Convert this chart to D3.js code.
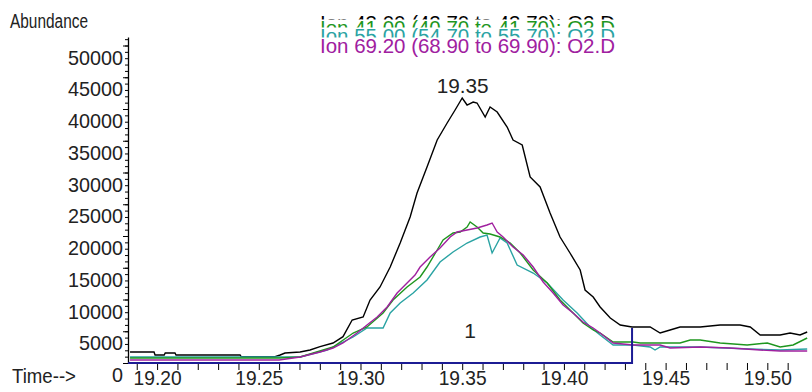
<!DOCTYPE html>
<html>
<head>
<meta charset="utf-8">
<script src="https://cdn.jsdelivr.net/npm/d3@7"></script>
<style>
body { margin: 0; background: #fff; }
text { font-family: "Liberation Sans Narrow", "Liberation Sans", "DejaVu Sans Condensed", sans-serif; }
</style>
</head>
<body>
<svg id="chart" width="812" height="392"></svg>
<script>
//retention time (min) and abundance for each ion trace
var blackTime = [19.1867, 19.1985, 19.1990, 19.2035, 19.2040, 19.2088, 19.2093, 19.2408, 19.2413, 19.2580, 19.2605, 19.2629, 19.2703, 19.2752, 19.2801, 19.2865, 19.2914, 19.2959, 19.3013, 19.3047, 19.3096, 19.3146, 19.3195, 19.3244, 19.3278, 19.3327, 19.3377, 19.3426, 19.3465, 19.3500, 19.3524, 19.3554, 19.3573, 19.3613, 19.3637, 19.3672, 19.3721, 19.3750, 19.3795, 19.3834, 19.3883, 19.3932, 19.3981, 19.4030, 19.4080, 19.4104, 19.4144, 19.4178, 19.4228, 19.4277, 19.4335, 19.4424, 19.4473, 19.4522, 19.4571, 19.4670, 19.4768, 19.4866, 19.4916, 19.4965, 19.5063, 19.5112, 19.5161, 19.5196];
var blackAbund = [1732, 1732, 1260, 1260, 1575, 1575, 1260, 1260, 1000, 1000, 1260, 1575, 1732, 2047, 2567, 3150, 4142, 6772, 7244, 9921, 11969, 15118, 18898, 22992, 26772, 30866, 35118, 37795, 39843, 41732, 40630, 41102, 40945, 38740, 40315, 39528, 37165, 35118, 34331, 29291, 27717, 23622, 19843, 17323, 14646, 11496, 10394, 8819, 7087, 5984, 5669, 5669, 4724, 5197, 5669, 5669, 5984, 5984, 5669, 4409, 4409, 4724, 4409, 4882];

var greenTime = [19.1867, 19.2600, 19.2703, 19.2865, 19.2964, 19.3032, 19.3111, 19.3160, 19.3229, 19.3293, 19.3327, 19.3377, 19.3406, 19.3455, 19.3490, 19.3524, 19.3539, 19.3573, 19.3603, 19.3637, 19.3686, 19.3736, 19.3785, 19.3849, 19.3918, 19.3981, 19.4045, 19.4094, 19.4144, 19.4178, 19.4242, 19.4340, 19.4375, 19.4571, 19.4621, 19.4670, 19.4768, 19.4901, 19.5000, 19.5063, 19.5127, 19.5196];
var greenAbund = [787, 787, 945, 2520, 4724, 5669, 7874, 9921, 11969, 13543, 15118, 17795, 19370, 20472, 20630, 21417, 22205, 21417, 20472, 20315, 19843, 18898, 17323, 14646, 12598, 9921, 7874, 6299, 5197, 4724, 3307, 3307, 3150, 3150, 3622, 3622, 3150, 2835, 3150, 2520, 2835, 3937];

var tealTime = [19.1867, 19.2600, 19.2703, 19.2836, 19.2964, 19.3032, 19.3111, 19.3146, 19.3195, 19.3259, 19.3327, 19.3391, 19.3455, 19.3524, 19.3588, 19.3622, 19.3647, 19.3686, 19.3721, 19.3770, 19.3849, 19.3918, 19.3996, 19.4065, 19.4129, 19.4178, 19.4242, 19.4340, 19.4424, 19.4448, 19.4473, 19.4670, 19.4916, 19.5063, 19.5196];
var tealAbund = [945, 945, 945, 2047, 4094, 5512, 5512, 7874, 9449, 11024, 13071, 15906, 17480, 18898, 19843, 20157, 17323, 19685, 18898, 15433, 14173, 12598, 9921, 7874, 5669, 4409, 2835, 2835, 2520, 2047, 2520, 2520, 2205, 2047, 2205];

var purpleTime = [19.1867, 19.2600, 19.2703, 19.2801, 19.2865, 19.2914, 19.2983, 19.3032, 19.3082, 19.3131, 19.3180, 19.3229, 19.3268, 19.3293, 19.3342, 19.3391, 19.3441, 19.3475, 19.3524, 19.3573, 19.3622, 19.3647, 19.3672, 19.3701, 19.3750, 19.3800, 19.3849, 19.3898, 19.3947, 19.3996, 19.4045, 19.4094, 19.4144, 19.4178, 19.4242, 19.4340, 19.4473, 19.4522, 19.4670, 19.4817, 19.4965, 19.5063, 19.5196];
var purpleAbund = [472, 472, 945, 1732, 2362, 3150, 4724, 5984, 7244, 8819, 11024, 12598, 13858, 15118, 16693, 18110, 19843, 20630, 20945, 21260, 21732, 22047, 20630, 19843, 18268, 17008, 15118, 12756, 11024, 9134, 7874, 6457, 5512, 4724, 3150, 2835, 2835, 2362, 2520, 2362, 2047, 1890, 1890];

//legend rows (printed over each other, only the last one stays readable)
var legendText = ["Ion 43.00 (42.70 to 43.70): O2.D", "Ion 41.00 (40.70 to 41.70): O2.D", "Ion 55.00 (54.70 to 55.70): O2.D", "Ion 69.20 (68.90 to 69.90): O2.D"];
var legendColor = ["#000000", "#1e961e", "#2aa3a3", "#a0209f"];

var xTickLabels = [19.20, 19.25, 19.30, 19.35, 19.40, 19.45, 19.50];
var yTickLabels = [0, 5000, 10000, 15000, 20000, 25000, 30000, 35000, 40000, 45000, 50000];

//integration: baseline end time and peak annotations
var intEnd = 19.4335;
var intEndTop = 5512;
var peakTime = 19.35;
var peakLabel = "19.35";
var peakNumber = "1";

var svg = d3.select("#chart");

var x = d3.scaleLinear().domain([19.1857, 19.52]).range([128, 808]);
var y = d3.scaleLinear().domain([0, 51340]).range([363, 37]);

//y axis: minor ticks every 1000, labelled every 5000
svg.append("g")
    .attr("transform", "translate(128,0)")
    .call(d3.axisLeft(y).tickValues(d3.range(0, 51001, 1000)).tickSize(3).tickSizeOuter(0).tickFormat(""))
    .call(g => g.select(".domain").attr("stroke", "#000").attr("stroke-width", 1.3));

var yLab = svg.append("g")
    .attr("transform", "translate(128,0)")
    .call(d3.axisLeft(y).tickValues(yTickLabels).tickSize(5).tickPadding(0).tickFormat(d3.format("d")));
yLab.select(".domain").remove();
yLab.selectAll("text")
    .attr("dy", "18.5px")
    .attr("fill", "#222")
    .style("font-size", "21px")
    .attr("textLength", d => String(d).length * 11)
    .attr("lengthAdjust", "spacingAndGlyphs");

//x axis: ticks every 0.01 min
var xMin = svg.append("g")
    .attr("transform", "translate(0,363)")
    .call(d3.axisBottom(x).tickValues(d3.range(19.19, 19.515, 0.01)).tickSize(7).tickSizeOuter(0).tickFormat(""));
xMin.select(".domain").remove();

var xLab = svg.append("g")
    .attr("transform", "translate(0,363)")
    .call(d3.axisBottom(x).tickValues(xTickLabels).tickSize(0).tickFormat(d3.format(".2f")));
xLab.select(".domain").remove();
xLab.selectAll("text")
    .attr("y", 22)
    .attr("dy", 0)
    .attr("fill", "#222")
    .style("font-size", "21px")
    .attr("textLength", 48)
    .attr("lengthAdjust", "spacingAndGlyphs");

//traces
var line = d3.line().x(d => x(d[0])).y(d => y(d[1]));
var traces = [
    [blackTime, blackAbund, legendColor[0]],
    [tealTime, tealAbund, legendColor[2]],
    [greenTime, greenAbund, legendColor[1]],
    [purpleTime, purpleAbund, legendColor[3]]
];
traces.forEach(function (t) {
    svg.append("path")
        .datum(d3.zip(t[0], t[1]))
        .attr("fill", "none")
        .attr("stroke", t[2])
        .attr("stroke-width", 1.4)
        .attr("d", line);
});

//integration baseline in blue
svg.append("path")
    .attr("fill", "none")
    .attr("stroke", "#1c1c94")
    .attr("stroke-width", 2)
    .attr("d", line([[x.domain()[0], 0], [intEnd, 0], [intEnd, intEndTop]]));

//peak labels
svg.append("text")
    .attr("x", x(peakTime) + 0.5)
    .attr("y", 93)
    .attr("text-anchor", "middle")
    .attr("fill", "#222")
    .style("font-size", "21px")
    .attr("textLength", 52)
    .attr("lengthAdjust", "spacingAndGlyphs")
    .text(peakLabel);

svg.append("text")
    .attr("x", x(peakTime) + 8)
    .attr("y", 338)
    .attr("text-anchor", "middle")
    .attr("fill", "#222")
    .style("font-size", "21px")
    .text(peakNumber);

//axis titles
svg.append("text")
    .attr("x", 10).attr("y", 28)
    .attr("fill", "#222")
    .style("font-size", "20px")
    .attr("textLength", 78)
    .attr("lengthAdjust", "spacingAndGlyphs")
    .text("Abundance");

svg.append("text")
    .attr("x", 12).attr("y", 383)
    .attr("fill", "#222")
    .style("font-size", "20px")
    .attr("textLength", 64)
    .attr("lengthAdjust", "spacingAndGlyphs")
    .text("Time-->");

//legend rows, each one painted on a white box over the one before
var legendBase = [29.5, 35, 43, 53];
legendText.forEach(function (s, i) {
    svg.append("rect")
        .attr("x", 316).attr("y", legendBase[i] - 15.5)
        .attr("width", 305).attr("height", 21)
        .attr("fill", "#fff");
    svg.append("text")
        .attr("x", 320).attr("y", legendBase[i])
        .attr("fill", legendColor[i])
        .style("font-size", "20px")
        .attr("textLength", 295)
        .attr("lengthAdjust", "spacingAndGlyphs")
        .text(s);
});
</script>
</body>
</html>
